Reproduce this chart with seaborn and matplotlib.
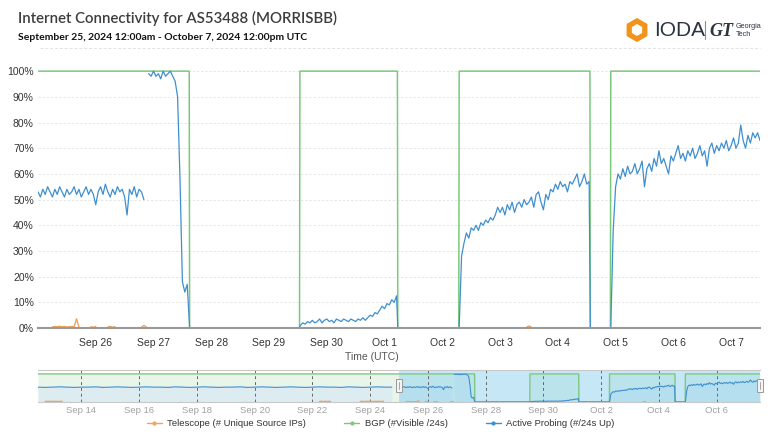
import pandas as pd
import matplotlib.pyplot as plt
import matplotlib.dates as mdates
import seaborn as sns
from matplotlib.lines import Line2D
from matplotlib.patches import Rectangle, RegularPolygon
import matplotlib.transforms as mtransforms

# ---- data (percent of max) ----
# Active probing, hourly segments (start, values)
probing_hist_start = "2024-09-12 12:00"   # 6-hourly, navigator only
probing_hist = [53, 52, 53, 54, 53, 52, 53, 53, 54, 52, 53, 54, 53, 52, 53, 54, 53, 53, 52, 54,
                53, 52, 53, 54, 53, 52, 53, 53, 54, 52, 53, 54, 53, 52, 53, 54, 53, 52, 53, 54,
                53, 53, 52, 54, 53, 52, 53, 54, 53, 53]
probing_a_start = "2024-09-25 00:00"
probing_a = [53, 51, 54, 52, 55, 53, 51, 54, 52, 55, 53, 51, 54, 52, 53, 55, 52, 54, 51, 53,
             55, 52, 54, 52, 48, 53, 55, 52, 56, 53, 51, 54, 52, 55, 53, 54, 51, 44, 54, 52,
             55, 51, 54, 53, 50]
probing_b_start = "2024-09-26 22:00"
probing_b = [99, 98, 100, 98, 99, 97, 100, 98, 99, 100, 98, 96, 90, 58, 18, 14, 17, 0]
probing_c_start = "2024-09-29 13:00"
probing_c = [1, 2, 1.5, 2.5, 2, 3, 2, 2.5, 3.5, 2, 3, 3.5, 2.5, 3, 2, 3.5, 3, 2.5, 3.5, 3,
             2.5, 3.5, 3, 2.5, 3.5, 3, 4, 3, 4, 5, 4.5, 6, 5.5, 7, 8.5, 7.5, 9.5, 9, 11, 10, 12.5]
probing_d_start = "2024-10-02 07:00"
probing_d = [0, 28, 33, 37, 35, 39, 38, 40, 38, 41, 40, 42, 41, 43, 42, 44, 47, 45, 47, 44,
             48, 46, 49, 45, 48, 49, 47, 50, 48, 49, 51, 47, 52, 53, 49, 46, 52, 50, 54, 53,
             56, 54, 57, 55, 56, 53, 57, 56, 58, 60, 55, 57, 60, 56, 57]
probing_e_start = "2024-10-04 22:00"
probing_e = [0, 38, 55, 60, 58, 62, 59, 63, 60, 61, 64, 60, 62, 65, 55, 62, 64, 61, 66, 63,
             69, 64, 66, 63, 60, 67, 65, 68, 71, 66, 68, 65, 69, 67, 70, 66, 68, 71, 67, 69,
             63, 70, 72, 68, 71, 69, 72, 70, 73, 69, 71, 74, 70, 72, 79, 73, 70, 75, 72, 76,
             74, 76, 73]
probing_zero_times = ["2024-09-29 12:30", "2024-10-01 05:30", "2024-10-04 13:30"]

# BGP step series
bgp_times = ["2024-09-12 12:00", "2024-09-27 14:50", "2024-09-27 15:00", "2024-09-29 12:40",
             "2024-09-29 12:50", "2024-10-01 05:20", "2024-10-01 05:30", "2024-10-02 06:50",
             "2024-10-02 07:00", "2024-10-04 13:20", "2024-10-04 13:30", "2024-10-04 21:50",
             "2024-10-04 22:00", "2024-10-07 12:00"]
bgp_values = [100, 100, 0, 0, 100, 100, 0, 0, 100, 100, 0, 0, 100, 100]

# Telescope, hourly fragments
telescope_segments = [
    ("2024-09-12 18:00", [1.5, 2, 1.5, 2, 1, 1.5, 2, 1.5, 1.5, 2, 1.5, 1, 1.5, 2, 1.5]),
    ("2024-09-22 06:00", [1.5, 2, 1.5, 1, 1.5, 2, 1.5, 1.5, 2, 1.5]),
    ("2024-09-23 16:00", [1.5, 2, 1.5, 1, 1.5, 2, 1.5, 1.5, 2, 1.5, 1, 1.5, 2, 1.5, 1.5, 2, 1.5, 1, 1.5, 2]),
    ("2024-09-25 06:00", [0.4, 0.6, 0.5, 0.7, 0.5, 0.6, 0.4, 0.5, 0.6, 0.5, 3.6, 0.4]),
    ("2024-09-25 22:00", [0.5, 0.3, 0.6]),
    ("2024-09-26 05:00", [0.4, 0.6, 0.3, 0.5]),
    ("2024-09-26 19:00", [0.3, 1.0, 0.4]),
    ("2024-10-03 11:00", [0.3, 0.8, 0.3]),
]

legend_labels = ["Telescope (# Unique Source IPs)", "BGP (#Visible /24s)", "Active Probing (#/24s Up)"]
y_ticks = [0, 10, 20, 30, 40, 50, 60, 70, 80, 90, 100]

C_TEL = "#f2a35e"
C_BGP = "#7cc97d"
C_AP = "#3f8fcf"


def frame(start, values, freq="h", unit=0):
    t = pd.date_range(start, periods=len(values), freq=freq)
    return pd.DataFrame({"time": t, "value": values, "unit": unit})


hist = frame(probing_hist_start, probing_hist, "6h", 0)
ap_a = frame(probing_a_start, probing_a, unit=1)
ap_rest = pd.concat([
    frame(probing_b_start, probing_b, unit=2),
    frame(probing_c_start, probing_c, unit=2),
    frame(probing_d_start, probing_d, unit=2),
    frame(probing_e_start, probing_e, unit=2),
    pd.DataFrame({"time": pd.to_datetime(probing_zero_times), "value": 0, "unit": 2}),
]).sort_values("time")
probing = pd.concat([ap_a, ap_rest], ignore_index=True)
probing_nav = pd.concat([hist, ap_a, ap_rest], ignore_index=True)

bgp = pd.DataFrame({"time": pd.to_datetime(bgp_times), "value": bgp_values, "unit": 0})
telescope = pd.concat([frame(s, v, unit=i) for i, (s, v) in enumerate(telescope_segments)],
                      ignore_index=True)

sns.set_style("white")
plt.rcParams["font.family"] = ["Liberation Sans", "DejaVu Sans"]

fig = plt.figure(figsize=(7.8, 4.42), dpi=100)

# ---- header ----
fig.text(18 / 780, 1 - 18 / 442, "Internet Connectivity for AS53488 (MORRISBB)",
         fontsize=10.8, color="#3d3d3d", family=["Lato", "DejaVu Sans"],
         fontweight="semibold", va="center")
fig.text(18 / 780, 1 - 38 / 442, "September 25, 2024 12:00am - October 7, 2024 12:00pm UTC",
         fontsize=7.5, color="#111111", family=["Lato", "DejaVu Sans"],
         fontweight="bold", va="center")
fig.add_artist(Line2D([40 / 780, 760 / 780], [1 - 48 / 442] * 2, transform=fig.transFigure,
                      color="#e2e2e2", lw=0.7, ls=(0, (3, 2))))

# logo
lg = fig.add_axes([620 / 780, 1 - 48 / 442, 150 / 780, 36 / 442])
lg.set_xlim(0, 150)
lg.set_ylim(0, 36)
lg.axis("off")
lg.add_patch(RegularPolygon((17, 18), numVertices=6, radius=9, fill=False, lw=3.8,
                            edgecolor="#f0941c"))
lg.text(34, 18, "IODA", fontsize=15, color="#2b3440", va="center", ha="left")
lg.plot([85, 85], [9, 27], color="#8a8f96", lw=0.8)
lg.text(89, 17, "GT", fontsize=13, color="#2b3440", va="center", ha="left",
        fontweight="bold", style="italic", family=["Liberation Serif"])
lg.text(116, 22, "Georgia", fontsize=5.2, color="#2b3440", va="center", ha="left")
lg.text(116, 13, "Tech", fontsize=5.2, color="#2b3440", va="center", ha="left")

# ---- main chart ----
ax = fig.add_axes([38 / 780, 1 - 328 / 442, 722 / 780, 262 / 442])
sns.lineplot(data=telescope, x="time", y="value", units="unit", estimator=None,
             color=C_TEL, lw=1.0, ax=ax, legend=False)
sns.lineplot(data=bgp, x="time", y="value", units="unit", estimator=None,
             color=C_BGP, lw=1.1, ax=ax, legend=False)
sns.lineplot(data=probing, x="time", y="value", units="unit", estimator=None,
             color=C_AP, lw=0.9, ax=ax, legend=False)
ax.set_xlim(pd.Timestamp("2024-09-25 00:00"), pd.Timestamp("2024-10-07 12:00"))
ax.set_ylim(0, 102)
ax.set_yticks(y_ticks)
ax.set_yticklabels([f"{v}%" for v in y_ticks])
ax.set_xticks(pd.date_range("2024-09-26", "2024-10-07", freq="D"))
ax.xaxis.set_major_formatter(mdates.DateFormatter("%b %-d"))
ax.tick_params(axis="x", length=5, width=1.2, color="#666666", labelsize=7.5,
               labelcolor="#333333", pad=2)
ax.tick_params(axis="y", length=0, labelsize=7.5, labelcolor="#333333", pad=3)
ax.grid(axis="y", color="#e3e3e3", lw=0.6, ls=(0, (3, 2)))
for s in ["top", "right", "left"]:
    ax.spines[s].set_visible(False)
ax.spines["bottom"].set_color("#999999")
ax.spines["bottom"].set_linewidth(1.5)
ax.set_xlabel("")
ax.set_ylabel("")
fig.text(372 / 780, 1 - 357 / 442, "Time (UTC)", fontsize=7.5, color="#555555",
         ha="center", va="center")

# ---- navigator ----
nav = fig.add_axes([38 / 780, 1 - 402 / 442, 722 / 780, 32 / 442])
nav_start = pd.Timestamp("2024-09-12 12:00")
nav_end = pd.Timestamp("2024-10-07 12:00")
sel_start = pd.Timestamp("2024-09-25 00:00")
nav.fill_between(bgp["time"], bgp["value"], color="#e9f4ea", lw=0, zorder=1)
for _, g in probing_nav.groupby("unit"):
    nav.fill_between(g["time"], g["value"], color="#dcecf0", lw=0, zorder=1.1)
nav.axvspan(sel_start, nav_end, color="#8fd3ee", alpha=0.5, lw=0, zorder=1.5)
sns.lineplot(data=telescope, x="time", y="value", units="unit", estimator=None,
             color=C_TEL, lw=1.2, ax=nav, legend=False, zorder=3)
sns.lineplot(data=bgp, x="time", y="value", units="unit", estimator=None,
             color=C_BGP, lw=1.0, ax=nav, legend=False, zorder=3)
sns.lineplot(data=probing_nav, x="time", y="value", units="unit", estimator=None,
             color=C_AP, lw=0.8, ax=nav, legend=False, zorder=3)
nav.set_xlim(nav_start, nav_end)
nav.set_ylim(0, 114)
nav.set_yticks([])
nav_ticks = pd.date_range("2024-09-14", "2024-10-06", freq="2D")
nav.set_xticks(nav_ticks)
nav.xaxis.set_major_formatter(mdates.DateFormatter("%b %-d"))
nav.tick_params(axis="x", length=0, labelsize=6.8, labelcolor="#a0a0a0", pad=3)
for t in nav_ticks:
    nav.axvline(t, color="#666666", lw=0.7, ls=(0, (3, 3)), zorder=2)
for s in ["left", "right"]:
    nav.spines[s].set_visible(False)
for s in ["top", "bottom"]:
    nav.spines[s].set_color("#c8c8c8")
    nav.spines[s].set_linewidth(0.8)
nav.set_xlabel("")
nav.set_ylabel("")
trans = mtransforms.blended_transform_factory(nav.transData, nav.transAxes)
hw = pd.Timedelta(hours=2.6)
for t in [sel_start, nav_end]:
    nav.add_patch(Rectangle((mdates.date2num(t - hw), 0.3), mdates.date2num(t + hw) - mdates.date2num(t - hw),
                            0.42, transform=trans, facecolor="#f4f4f4", edgecolor="#9a9a9a",
                            lw=0.7, zorder=5, clip_on=False))
    nav.plot([mdates.date2num(t)] * 2, [0.4, 0.62], transform=trans, color="#9a9a9a",
             lw=0.6, zorder=6, clip_on=False)

# ---- legend ----
handles = [Line2D([], [], color=c, lw=1.0, marker="o", markersize=2.0)
           for c in [C_TEL, C_BGP, C_AP]]
fig.legend(handles, legend_labels, loc="center", bbox_to_anchor=(0.488, 1 - 424 / 442),
           ncol=3, frameon=False, fontsize=6.8, handlelength=1.6, columnspacing=4.0,
           handletextpad=0.6, labelcolor="#333333")

fig.savefig("out.png", dpi=100)
